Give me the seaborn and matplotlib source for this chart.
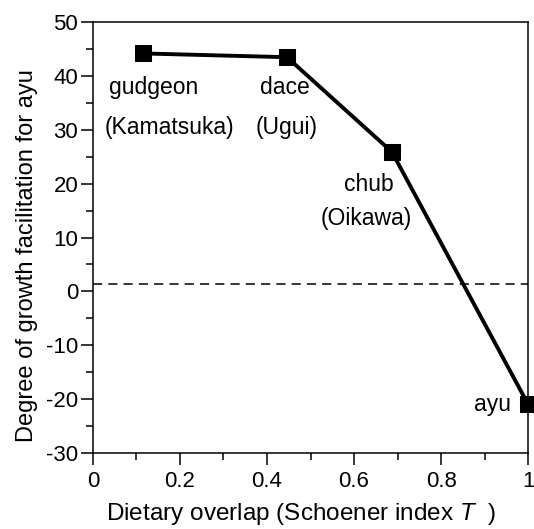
import matplotlib
matplotlib.use("Agg")
import matplotlib.pyplot as plt
import seaborn as sns
import pandas as pd
from matplotlib.ticker import MultipleLocator, FuncFormatter

species = ["gudgeon", "dace", "chub", "ayu"]
local_names = ["(Kamatsuka)", "(Ugui)", "(Oikawa)", ""]
overlap = [0.115, 0.446, 0.687, 1.0]
facilitation = [44.2, 43.5, 25.9, -21.0]
baseline = 1.4

df = pd.DataFrame({"overlap": overlap, "facilitation": facilitation, "species": species})

sns.set_theme(style="ticks")
plt.rcParams["font.family"] = ["Liberation Sans", "DejaVu Sans"]
plt.rcParams["mathtext.fontset"] = "custom"
plt.rcParams["mathtext.it"] = "Liberation Sans:italic"
plt.rcParams["mathtext.rm"] = "Liberation Sans"
plt.rcParams["axes.unicode_minus"] = False
plt.rcParams["text.color"] = "black"
plt.rcParams["axes.labelcolor"] = "black"
plt.rcParams["xtick.color"] = "black"
plt.rcParams["ytick.color"] = "black"

fig = plt.figure(figsize=(5.34, 5.29), dpi=100)
ax = fig.add_axes([0.174, 0.144, 0.815, 0.814])

ax.axhline(baseline, color="black", lw=1.1, dashes=(6, 4), zorder=1)
sns.lineplot(data=df, x="overlap", y="facilitation", ax=ax, color="black",
             lw=2.8, marker="s", markersize=11, markeredgecolor="black",
             markerfacecolor="black", clip_on=False, zorder=3)

fs = 16.5
# annotations
ax.text(0.140, 37.8, "gudgeon", ha="center", va="center", fontsize=fs)
ax.text(0.175, 30.5, "(Kamatsuka)", ha="center", va="center", fontsize=fs)
ax.text(0.441, 37.8, "dace", ha="center", va="center", fontsize=fs)
ax.text(0.444, 30.5, "(Ugui)", ha="center", va="center", fontsize=fs)
ax.text(0.634, 19.8, "chub", ha="center", va="center", fontsize=fs)
ax.text(0.628, 13.6, "(Oikawa)", ha="center", va="center", fontsize=fs)
ax.text(0.961, -21.0, "ayu", ha="right", va="center", fontsize=fs)

ax.set_xlim(0, 1)
ax.set_ylim(-30, 50)
ax.xaxis.set_major_locator(MultipleLocator(0.2))
ax.xaxis.set_minor_locator(MultipleLocator(0.1))
ax.yaxis.set_major_locator(MultipleLocator(10))
ax.yaxis.set_minor_locator(MultipleLocator(5))
ax.xaxis.set_major_formatter(FuncFormatter(lambda v, p: f"{v:g}"))
ax.yaxis.set_major_formatter(FuncFormatter(lambda v, p: f"{v:g}"))
ax.tick_params(which="major", direction="out", length=8.6, width=1.1, labelsize=16)
ax.tick_params(which="minor", direction="out", length=5, width=1.1)
ax.tick_params(axis="x", which="major", pad=4.3)
ax.tick_params(axis="y", which="major", pad=2)
for s in ax.spines.values():
    s.set_linewidth(1.1)
    s.set_color("black")
    s.set_visible(True)

ax.set_xlabel(r"Dietary overlap (Schoener index $T$  )", fontsize=17.5)
ax.xaxis.set_label_coords(0.478, -0.172)
ax.xaxis.label.set_va("bottom")
ax.set_ylabel("Degree of growth facilitation for ayu", fontsize=17)
ax.yaxis.set_label_coords(-0.127, 0.457)
if ax.get_legend():
    ax.get_legend().remove()

fig.savefig("out.png", dpi=100)
